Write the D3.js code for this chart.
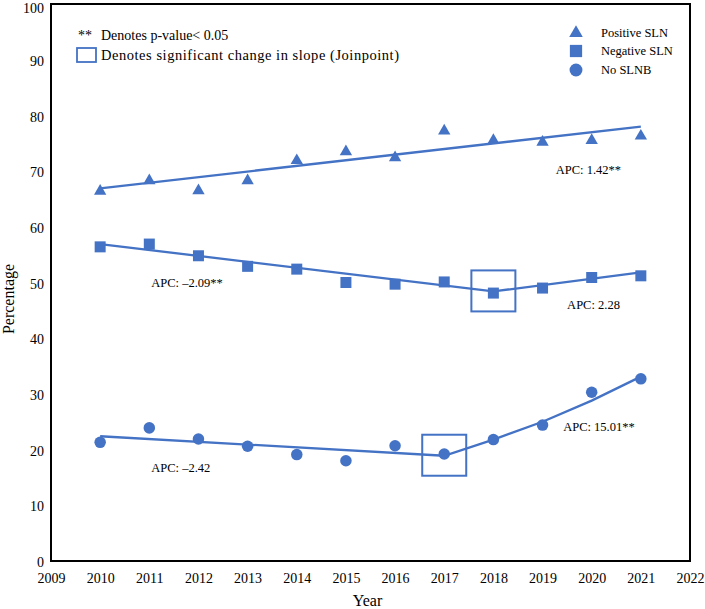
<!DOCTYPE html>
<html>
<head>
<meta charset="utf-8">
<script src="https://cdn.jsdelivr.net/npm/d3@7"></script>
<style>
  body { margin: 0; background: #fff; }
  text { font-family: "Liberation Serif", "Times New Roman", serif; fill: #000; }
</style>
</head>
<body>
<div id="chart"></div>
<script>

// data
const years = [2010, 2011, 2012, 2013, 2014, 2015, 2016, 2017, 2018, 2019, 2020, 2021];
const positiveSLN = [66.4, 68.3, 66.5, 68.3, 71.9, 73.5, 72.4, 77.2, 75.5, 75.2, 75.5, 76.3];
const negativeSLN = [56.4, 56.9, 54.8, 52.9, 52.4, 50.0, 49.7, 50.1, 48.1, 49.0, 50.9, 51.2];
const noSLNB = [21.3, 23.9, 21.9, 20.6, 19.1, 18.0, 20.7, 19.2, 21.8, 24.4, 30.3, 32.7];

// joinpoint fitted lines
const positiveFit = [[2010, 66.9], [2021, 78.0]];
const negativeFit = [[2010, 56.9], [2018, 48.4], [2021, 51.8]];
const noSLNBFit = [[2010, 22.4], [2017, 18.9], [2018, 21.8], [2019, 25.0], [2020, 28.8], [2021, 33.1]];

// joinpoints with a significant change in slope
const joinpoints = [[2018, 48.4], [2017, 18.9]];

// APC labels: text, year, value (left edge / baseline)
const apcLabels = [
  ["APC: 1.42**", 2019.27, 69.5],
  ["APC: \u20132.09**", 2011.04, 49.2],
  ["APC: 2.28", 2019.5, 45.2],
  ["APC: \u20132.42", 2011.04, 16.0],
  ["APC: 15.01**", 2019.42, 23.3]
];

const seriesNames = ["Positive SLN", "Negative SLN", "No SLNB"];
const xTicks = d3.range(2009, 2023);
const yTicks = d3.range(0, 101, 10);

const color = "#4472C4";

const margin = {top: 4, right: 15, bottom: 48, left: 51};
const W = 705, H = 609;
const width = W - margin.left - margin.right;
const height = H - margin.top - margin.bottom;

const svg = d3.select("#chart")
    .append("svg")
    .attr("width", W)
    .attr("height", H);

const g = svg.append("g")
    .attr("transform", "translate(" + margin.left + "," + margin.top + ")");

let x = d3.scaleLinear().domain([2009, 2022]).range([0, width]);
let y = d3.scaleLinear().domain([0, 100]).range([height, 0]);

// X axis labels
g.append("g")
    .attr("transform", "translate(0," + height + ")")
    .call(d3.axisBottom(x).tickValues(xTicks).tickFormat(d3.format("d")).tickSize(0).tickPadding(12))
    .call(a => a.select(".domain").remove())
    .selectAll("text")
    .style("font-family", "Liberation Serif")
    .style("font-size", "14px");

// Y axis labels (top one nudged down so it stays inside the picture)
g.append("g")
    .call(d3.axisLeft(y).tickValues(yTicks).tickSize(0).tickPadding(7))
    .call(a => a.select(".domain").remove())
    .selectAll("text")
    .attr("dy", function(d) { return d === 100 ? "0.6em" : "0.4em"; })
    .style("font-family", "Liberation Serif")
    .style("font-size", "14px");

// plot frame
g.append("rect")
    .attr("width", width)
    .attr("height", height)
    .attr("fill", "none")
    .attr("stroke", "#000")
    .attr("stroke-width", 2);

// axis titles
g.append("text")
    .attr("x", width / 2 - 3)
    .attr("y", height + 45)
    .style("text-anchor", "middle")
    .style("font-size", "16px")
    .text("Year");

g.append("text")
    .attr("transform", "rotate(-90)")
    .attr("x", -295)
    .attr("y", -37)
    .style("text-anchor", "middle")
    .style("font-size", "16px")
    .text("Percentage");

// fitted lines
let fitLine = d3.line()
    .x(function(d) { return x(d[0]); })
    .y(function(d) { return y(d[1]); });

[positiveFit, negativeFit, noSLNBFit].forEach(function(fit) {
    g.append("path")
        .attr("d", fitLine(fit))
        .attr("fill", "none")
        .attr("stroke", color)
        .attr("stroke-width", 2.3);
});

// markers
const symbols = [
    d3.symbol().type(d3.symbolTriangle).size(66),
    d3.symbol().type(d3.symbolSquare).size(121),
    d3.symbol().type(d3.symbolCircle).size(104)
];

[positiveSLN, negativeSLN, noSLNB].forEach(function(vals, i) {
    g.selectAll(".dot" + i)
        .data(vals)
        .enter().append("path")
        .attr("class", "dot" + i)
        .attr("transform", function(d, j) {
            return "translate(" + x(years[j]) + "," + y(d) + ")";
        })
        .attr("d", symbols[i])
        .attr("fill", color);
});

// joinpoint boxes
g.selectAll(".jp")
    .data(joinpoints)
    .enter().append("rect")
    .attr("class", "jp")
    .attr("x", function(d) { return x(d[0]) - 22; })
    .attr("y", function(d) { return y(d[1]) - 21; })
    .attr("width", 44)
    .attr("height", 41)
    .attr("fill", "none")
    .attr("stroke", color)
    .attr("stroke-width", 2);

// APC labels
g.selectAll(".apc")
    .data(apcLabels)
    .enter().append("text")
    .attr("class", "apc")
    .attr("x", function(d) { return x(d[1]); })
    .attr("y", function(d) { return y(d[2]); })
    .style("font-size", "12.5px")
    .text(function(d) { return d[0]; });

// note legend (top left)
svg.append("text")
    .attr("x", 78)
    .attr("y", 40)
    .style("font-size", "14px")
    .text("**");
svg.append("text")
    .attr("x", 101)
    .attr("y", 40)
    .style("font-size", "14px")
    .text("Denotes p-value< 0.05");
svg.append("rect")
    .attr("x", 77)
    .attr("y", 48)
    .attr("width", 19)
    .attr("height", 14)
    .attr("fill", "none")
    .attr("stroke", color)
    .attr("stroke-width", 1.8);
svg.append("text")
    .attr("x", 101)
    .attr("y", 60)
    .attr("textLength", 298)
    .attr("lengthAdjust", "spacing")
    .style("font-size", "14.5px")
    .text("Denotes significant change in slope (Joinpoint)");

// series legend (top right)
const legendSymbols = [
    d3.symbol().type(d3.symbolTriangle).size(80),
    d3.symbol().type(d3.symbolSquare).size(150),
    d3.symbol().type(d3.symbolCircle).size(130)
];
const legendY = [33, 51, 70];

seriesNames.forEach(function(name, i) {
    svg.append("path")
        .attr("transform", "translate(576," + legendY[i] + ")")
        .attr("d", legendSymbols[i])
        .attr("fill", color);
    svg.append("text")
        .attr("x", 601)
        .attr("y", legendY[i] + 4)
        .style("font-size", "12.5px")
        .text(name);
});
</script>
</body>
</html>
